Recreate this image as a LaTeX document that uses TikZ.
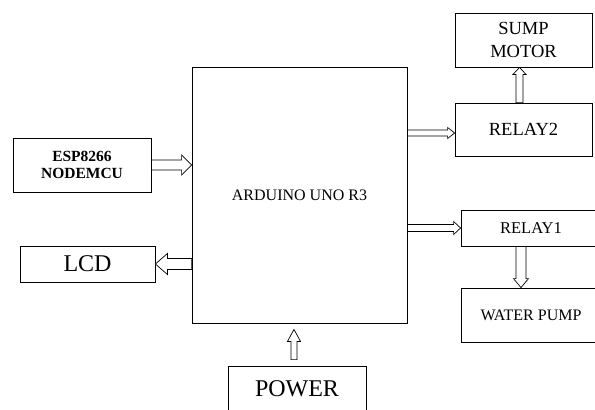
\documentclass[tikz,border=0pt]{standalone}
\usepackage{fontspec}
\setmainfont{Liberation Serif}
\usetikzlibrary{calc}
\newcommand{\fs}[2]{\fontsize{#1}{#2}\selectfont}
\begin{document}
\begin{tikzpicture}[x=1pt,y=-1pt,
    blk/.style={draw,line width=0.8pt,inner sep=0pt,align=center},
    % hollow block arrow: half shaft, half head, head length
    fat/.style n args={3}{draw,line width=0.7pt,fill=white,
      to path={let \p1=(\tikztostart), \p2=(\tikztotarget),
        \n1={veclen(\x2-\x1,\y2-\y1)}, \n2={atan2(\y2-\y1,\x2-\x1)} in
        {[shift={(\p1)},rotate=\n2]
        (0,#1) -- (\n1-#3,#1) -- (\n1-#3,#2) -- (\n1,0) -- (\n1-#3,-#2) -- (\n1-#3,-#1) -- (0,-#1) -- cycle}}}]
    \useasboundingbox (0,0) rectangle (595,410);
    \node[blk,minimum width=215pt,minimum height=256pt,font=\fs{16}{19}] (ard) at (299.5,195) {ARDUINO UNO R3};
    \node[blk,minimum width=138pt,minimum height=54pt,font=\bfseries\fs{15.5}{17.5}] (esp) at (82,165) {ESP8266\\NODEMCU};
    \node[blk,minimum width=135pt,minimum height=36pt,font=\fs{24}{28}] (lcd) at (87.5,264) {LCD};
    \node[blk,minimum width=137pt,minimum height=54pt,font=\fs{18.5}{23}] (sump) at (523.5,40) {SUMP\\MOTOR};
    \node[blk,minimum width=137pt,minimum height=53pt,font=\fs{18.5}{22}] (rel2) at (523.5,129.5) {RELAY2};
    \node[blk,minimum width=140pt,minimum height=36pt,font=\fs{16.5}{20}] (rel1) at (531,228) {RELAY1};
    \node[blk,minimum width=140pt,minimum height=54pt,font=\fs{16}{19}] (wp) at (531,315) {WATER PUMP};
    \node[blk,minimum width=138pt,minimum height=45pt,font=\fs{24}{28}] (pwr) at (297,388.5) {POWER};
    \draw[fat={5}{10}{10}] (esp.east) to (esp.east -| ard.west);
    \draw[fat={5.5}{10.5}{12}] (ard.west |- lcd) to (lcd.east);
    \draw[fat={3}{5.5}{7}] ([yshift=-3.5pt]ard.east |- rel2) to ([yshift=-3.5pt]rel2.west);
    \draw[fat={3.5}{6.5}{7}] (ard.east |- rel1) to (rel1.west);
    \draw[fat={3.5}{6.5}{7}] ([xshift=-4pt]rel2.north) to ([xshift=-4pt]sump.south);
    \draw[fat={5}{7.5}{9}] ([xshift=-10pt]rel1.south) to ([xshift=-10pt]wp.north);
    \draw[fat={3}{6.5}{12}] ([xshift=-3pt,yshift=6pt]pwr.north) to ([xshift=-3pt,yshift=-6pt]pwr.north |- ard.south);
\end{tikzpicture}
\end{document}
